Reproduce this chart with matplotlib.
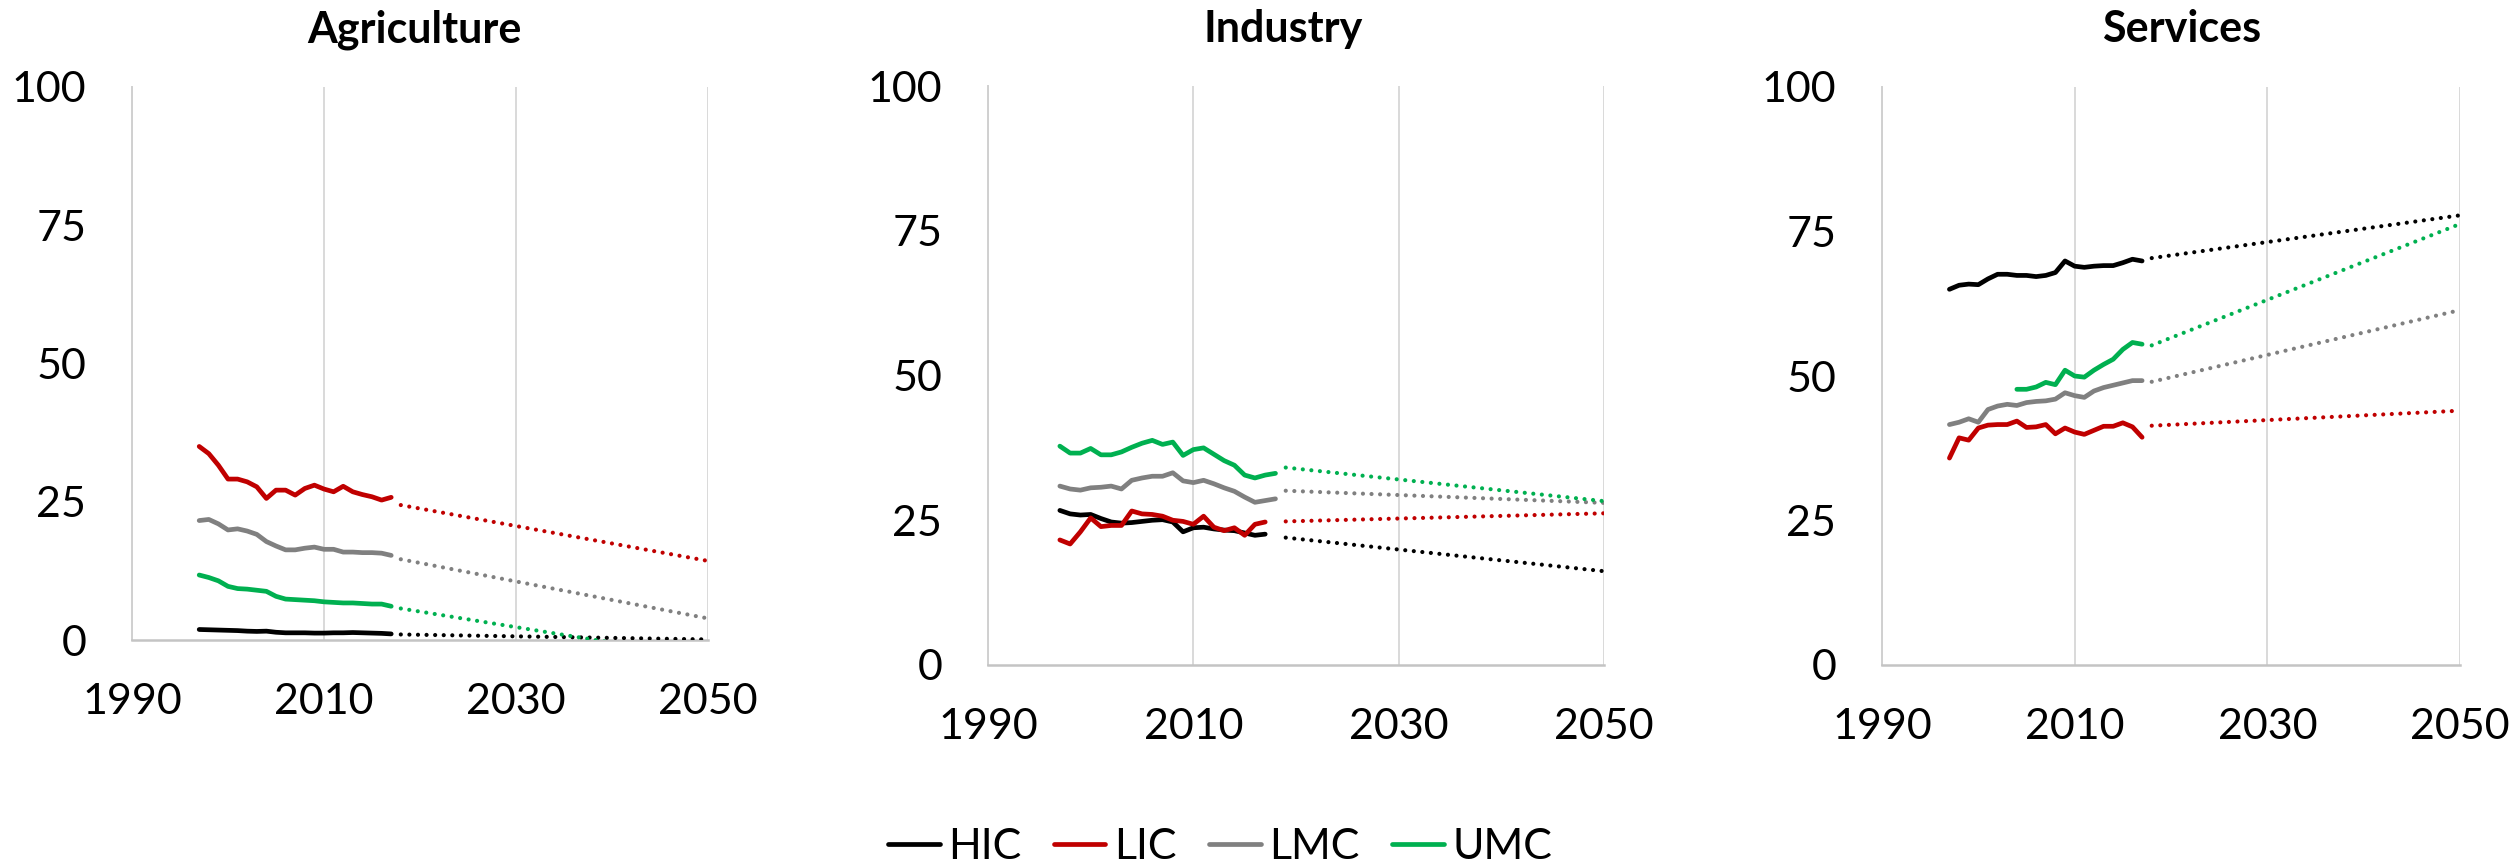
import matplotlib
matplotlib.use("Agg")
import matplotlib.pyplot as plt
from matplotlib.lines import Line2D

plt.rcParams['font.family'] = ['Lato', 'DejaVu Sans']

# ---------------- data ----------------
groups = ["HIC", "LIC", "LMC", "UMC"]
colors = {"HIC": "#000000", "LIC": "#C00000", "LMC": "#808080", "UMC": "#00B050"}

years_97_17 = list(range(1997, 2018))
years_97_18 = list(range(1997, 2019))
years_04_17 = list(range(2004, 2018))

# Agriculture (historical)
agr_hic = [1.9, 1.85, 1.8, 1.75, 1.7, 1.6, 1.55, 1.6, 1.4, 1.3, 1.3, 1.3, 1.25, 1.25,
           1.3, 1.3, 1.35, 1.3, 1.25, 1.2, 1.1]
agr_lic = [35.0, 33.7, 31.6, 29.1, 29.1, 28.6, 27.7, 25.6, 27.1, 27.1, 26.2, 27.4, 28.0,
           27.3, 26.8, 27.8, 26.8, 26.3, 25.9, 25.3, 25.8]
agr_lmc = [21.6, 21.8, 21.0, 19.9, 20.1, 19.7, 19.1, 17.8, 17.0, 16.3, 16.3, 16.6, 16.8,
           16.4, 16.4, 15.9, 15.9, 15.8, 15.8, 15.7, 15.3]
agr_umc = [11.75, 11.3, 10.7, 9.7, 9.3, 9.2, 9.0, 8.8, 7.9, 7.4, 7.3, 7.2, 7.1, 6.9,
           6.8, 6.7, 6.7, 6.6, 6.5, 6.5, 6.1]
# Agriculture projections (2018 -> 2050)
agr_proj_years = [2018, 2050]
agr_proj_hic = [1.0, 0.1]
agr_proj_lic = [24.4, 14.3]
agr_proj_lmc = [14.6, 3.9]
agr_proj_umc = [5.7, -3.3]

# Industry (historical)
ind_hic = [26.7, 26.1, 25.9, 26.0, 25.3, 24.7, 24.5, 24.6, 24.8, 25.0, 25.1, 24.7, 23.0,
           23.7, 23.8, 23.5, 23.3, 23.2, 22.8, 22.4, 22.6]
ind_lic = [21.6, 20.9, 23.0, 25.4, 23.9, 24.1, 24.1, 26.6, 26.1, 26.0, 25.7, 25.0, 24.8,
           24.3, 25.7, 23.8, 23.2, 23.7, 22.4, 24.3, 24.7]
ind_lmc = [30.9, 30.4, 30.2, 30.6, 30.7, 30.9, 30.4, 31.9, 32.3, 32.6, 32.6, 33.2, 31.8,
           31.5, 31.9, 31.3, 30.6, 30.0, 29.0, 28.1, 28.4, 28.7]
ind_umc = [37.8, 36.6, 36.6, 37.4, 36.3, 36.3, 36.8, 37.6, 38.3, 38.8, 38.1, 38.5, 36.2,
           37.2, 37.5, 36.4, 35.3, 34.5, 32.8, 32.3, 32.8, 33.1]
# Industry projections (2019 -> 2050)
ind_proj_years = [2019, 2050]
ind_proj_hic = [22.0, 16.2]
ind_proj_lic = [24.8, 26.2]
ind_proj_lmc = [30.1, 28.0]
ind_proj_umc = [34.1, 28.3]

# Services (historical)
ser_hic = [65.0, 65.7, 65.9, 65.8, 66.8, 67.6, 67.6, 67.4, 67.4, 67.2, 67.4, 67.9, 69.9,
           69.0, 68.8, 69.0, 69.1, 69.1, 69.6, 70.2, 69.9]
ser_lic = [35.8, 39.3, 38.9, 41.0, 41.5, 41.6, 41.6, 42.2, 41.1, 41.2, 41.6, 40.0, 41.0,
           40.3, 39.9, 40.6, 41.3, 41.3, 41.9, 41.2, 39.4]
ser_lmc = [41.6, 42.0, 42.6, 42.0, 44.2, 44.8, 45.1, 44.9, 45.4, 45.6, 45.7, 46.0, 47.1,
           46.6, 46.3, 47.4, 48.0, 48.4, 48.8, 49.2, 49.2]
ser_umc = [47.7, 47.7, 48.1, 48.9, 48.5, 51.0, 50.0, 49.8, 51.0, 52.0, 52.9, 54.6, 55.8, 55.5]
# Services projections (2018 -> 2050)
ser_proj_years = [2018, 2050]
ser_proj_hic = [70.4, 77.8]
ser_proj_lic = [41.4, 44.0]
ser_proj_lmc = [49.0, 61.4]
ser_proj_umc = [55.3, 76.3]

x_ticks = [1990, 2010, 2030, 2050]
y_ticks = [0, 25, 50, 75, 100]

panels = [
    dict(title="Agriculture",
         hist={"HIC": (years_97_17, agr_hic), "LIC": (years_97_17, agr_lic),
               "LMC": (years_97_17, agr_lmc), "UMC": (years_97_17, agr_umc)},
         proj={"HIC": agr_proj_hic, "LIC": agr_proj_lic, "LMC": agr_proj_lmc, "UMC": agr_proj_umc},
         proj_years=agr_proj_years),
    dict(title="Industry",
         hist={"HIC": (years_97_17, ind_hic), "LIC": (years_97_17, ind_lic),
               "LMC": (years_97_18, ind_lmc), "UMC": (years_97_18, ind_umc)},
         proj={"HIC": ind_proj_hic, "LIC": ind_proj_lic, "LMC": ind_proj_lmc, "UMC": ind_proj_umc},
         proj_years=ind_proj_years),
    dict(title="Services",
         hist={"HIC": (years_97_17, ser_hic), "LIC": (years_97_17, ser_lic),
               "LMC": (years_97_17, ser_lmc), "UMC": (years_04_17, ser_umc)},
         proj={"HIC": ser_proj_hic, "LIC": ser_proj_lic, "LMC": ser_proj_lmc, "UMC": ser_proj_umc},
         proj_years=ser_proj_years),
]

# ---------------- layout ----------------
W, H = 2520, 866
fig = plt.figure(figsize=(W / 100, H / 100), dpi=100)

# axes boxes in pixels: left, top, right, bottom
boxes = [(132, 87, 708, 640), (988, 86, 1604, 665), (1882, 87, 2460, 665)]
title_x = [414, 1283, 2182]

TICK_FS = 31
for p, (l, t, r, b), tx in zip(panels, boxes, title_x):
    ax = fig.add_axes([l / W, 1 - b / H, (r - l) / W, (b - t) / H])
    for g in groups:
        xs, ys = p["hist"][g]
        ax.plot(xs, ys, color=colors[g], lw=3.4, solid_capstyle='round',
                solid_joinstyle='round', zorder=3)
        ax.plot(p["proj_years"], p["proj"][g], color=colors[g], lw=3.0,
                linestyle=(0, (0.01, 2.05)), dash_capstyle='round', zorder=3)
    ax.set_xlim(1990, 2050)
    ax.set_ylim(0, 100)
    ax.set_xticks(x_ticks)
    ax.set_yticks(y_ticks)
    ax.tick_params(axis='both', length=0, labelsize=TICK_FS, colors='black')
    ax.tick_params(axis='x', pad=31)
    ax.tick_params(axis='y', pad=33)
    ax.grid(axis='x', color='#D9D9D9', lw=1.4)
    ax.grid(axis='y', visible=False)
    ax.set_axisbelow(True)
    for s in ("top", "right"):
        ax.spines[s].set_visible(False)
    ax.spines["left"].set_color('#D0D0D0')
    ax.spines["left"].set_linewidth(1.4)
    ax.spines["bottom"].set_color('#C4C4C4')
    ax.spines["bottom"].set_linewidth(1.8)
    fig.text(tx / W, 1 - 42 / H, p["title"], ha='center', va='baseline',
             fontsize=31, fontweight='bold')

handles = [Line2D([0], [0], color=colors[g], lw=3.4, solid_capstyle='round') for g in groups]
fig.legend(handles, groups, loc='center', bbox_to_anchor=(1220 / W, 1 - 847 / H),
           ncol=4, frameon=False, fontsize=TICK_FS, handlelength=1.2,
           handletextpad=0.2, columnspacing=0.75, borderaxespad=0, borderpad=0)

fig.savefig("out.png", dpi=100, facecolor='white')
